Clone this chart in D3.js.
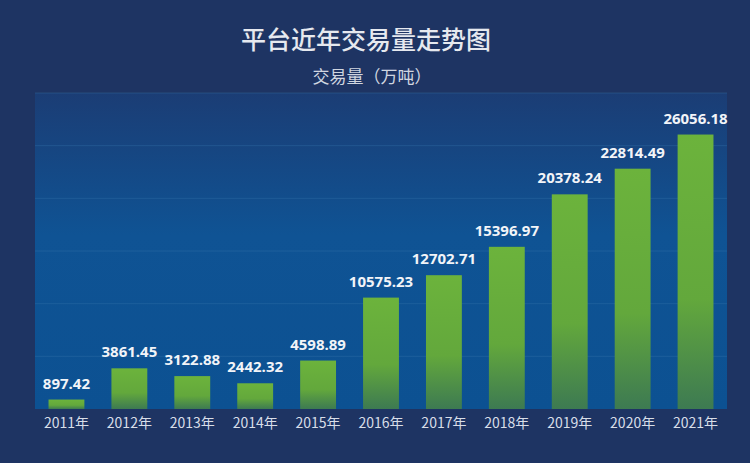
<!DOCTYPE html>
<html><head><meta charset="utf-8">
<script src="https://cdn.jsdelivr.net/npm/d3@7"></script>
<style>body{margin:0;background:#1e3463;}svg{display:block;}</style>
</head><body><div id="chart"></div>
<script>
const years = ['2011年','2012年','2013年','2014年','2015年','2016年','2017年','2018年','2019年','2020年','2021年'];
const volumes = [897.42, 3861.45, 3122.88, 2442.32, 4598.89, 10575.23, 12702.71, 15396.97, 20378.24, 22814.49, 26056.18];
const yTicks = [0, 5000, 10000, 15000, 20000, 25000, 30000];

const width = 750, height = 463;
const area = { left: 35, right: 727, top: 93, bottom: 409 };

const svg = d3.select('#chart').append('svg').attr('width', width).attr('height', height);
const defs = svg.append('defs');

const bg = defs.append('linearGradient').attr('id', 'panel').attr('x1', 0).attr('x2', 0).attr('y1', 0).attr('y2', 1);
bg.append('stop').attr('offset', '0%').attr('stop-color', '#1b3d75');
bg.append('stop').attr('offset', '45%').attr('stop-color', '#0f5394');
bg.append('stop').attr('offset', '100%').attr('stop-color', '#0c5192');

const bar = defs.append('linearGradient').attr('id', 'bar').attr('x1', 0).attr('x2', 0).attr('y1', 0).attr('y2', 1);
bar.append('stop').attr('offset', '0%').attr('stop-color', '#6cb33c');
bar.append('stop').attr('offset', '60%').attr('stop-color', '#63a83c');
bar.append('stop').attr('offset', '100%').attr('stop-color', '#3d7a52');

svg.append('rect').attr('width', width).attr('height', height).attr('fill', '#1e3463');
svg.append('rect').attr('x', area.left).attr('y', area.top)
  .attr('width', area.right - area.left).attr('height', area.bottom - area.top)
  .attr('fill', 'url(#panel)');

const x = d3.scaleBand().domain(years).range([area.left, area.right]).paddingInner(0.43).paddingOuter(0.215);
const y = d3.scaleLinear().domain([0, 30000]).range([area.bottom, area.top]);

svg.append('g').selectAll('line').data(yTicks.slice(1)).join('line')
  .attr('x1', area.left).attr('x2', area.right)
  .attr('y1', d => y(d)).attr('y2', d => y(d))
  .attr('stroke', '#3a78b0').attr('stroke-opacity', 0.35).attr('stroke-width', 1);

svg.append('g').selectAll('rect').data(volumes).join('rect')
  .attr('x', (d, i) => x(years[i]))
  .attr('y', d => y(d))
  .attr('width', x.bandwidth())
  .attr('height', d => y(0) - y(d))
  .attr('fill', 'url(#bar)');

svg.append('g').selectAll('text').data(volumes).join('text')
  .attr('x', (d, i) => x(years[i]) + x.bandwidth() / 2)
  .attr('y', d => y(d) - 11)
  .attr('text-anchor', 'middle')
  .attr('font-family', 'Open Sans, sans-serif').attr('font-weight', 'bold').attr('font-size', 15)
  .attr('fill', '#f2f4f8')
  .text(d => d.toFixed(2));

const xAxis = svg.append('g').attr('transform', `translate(0,${area.bottom})`)
  .call(d3.axisBottom(x).tickSize(0).tickPadding(9));
xAxis.select('.domain').remove();
xAxis.selectAll('text').attr('font-family', 'Noto Sans CJK SC, sans-serif').attr('font-size', 14).attr('fill', '#d8dee8');

svg.append('text').attr('x', 366).attr('y', 49).attr('text-anchor', 'middle')
  .attr('font-family', 'Noto Sans CJK SC, sans-serif').attr('font-weight', 500).attr('font-size', 25).attr('fill', '#e6e9ef')
  .text('平台近年交易量走势图');
svg.append('text').attr('x', 372).attr('y', 83).attr('text-anchor', 'middle')
  .attr('font-family', 'Noto Sans CJK SC, sans-serif').attr('font-size', 17).attr('fill', '#d0d6e0')
  .text('交易量（万吨）');
</script></body></html>
